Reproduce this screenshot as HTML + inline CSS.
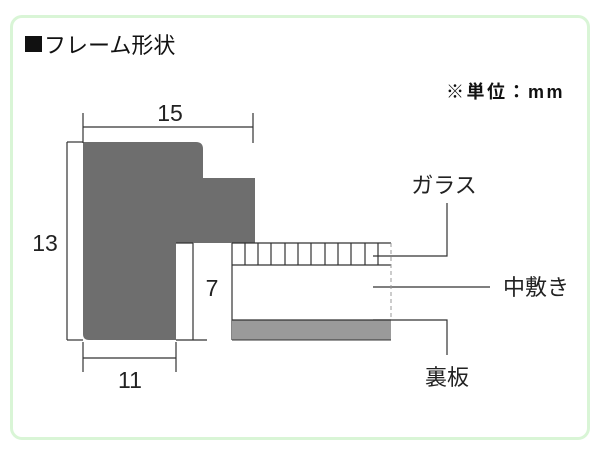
<!DOCTYPE html>
<html><head><meta charset="utf-8"><style>
html,body{margin:0;padding:0;background:#fff;}
body{width:600px;height:450px;position:relative;overflow:hidden;font-family:"Liberation Sans","Noto Sans CJK JP",sans-serif;}
.b{position:absolute;left:10px;top:15px;width:574px;height:419px;border:3px solid #d9f5d6;border-radius:12px;}
svg{position:absolute;left:0;top:0;}
</style></head><body>
<div class="b"></div>
<svg width="600" height="450" viewBox="0 0 600 450">
<rect x="25" y="36" width="17" height="16" fill="#111"/>
<text x="44" y="53" font-size="22" fill="#111" font-family="Liberation Sans,Noto Sans CJK JP,sans-serif">フレーム形状</text>
<text x="446" y="98" font-size="18" fill="#111" font-family="Liberation Sans,Noto Sans CJK JP,sans-serif" font-weight="bold" letter-spacing="2.5">※単位：mm</text>
<path d="M83 142 H196 Q203 142 203 149 V178 H255 V243 H176 V340 H89 Q83 340 83 334 Z" fill="#6e6e6e"/>
<g stroke="#333" stroke-width="1.2" fill="none">
<line x1="83" y1="127" x2="253" y2="127"/>
<line x1="83" y1="113" x2="83" y2="143"/>
<line x1="253" y1="113" x2="253" y2="143"/>
<line x1="67" y1="142" x2="67" y2="340"/>
<line x1="67" y1="142" x2="83" y2="142"/>
<line x1="67" y1="340" x2="83" y2="340"/>
<line x1="83" y1="358" x2="176" y2="358"/>
<line x1="83" y1="342" x2="83" y2="372"/>
<line x1="176" y1="342" x2="176" y2="372"/>
<line x1="176" y1="243" x2="193" y2="243"/>
<line x1="193" y1="243" x2="193" y2="340"/>
<line x1="176" y1="340" x2="207" y2="340"/>
<line x1="232" y1="243" x2="391" y2="243"/>
<line x1="232" y1="265" x2="391" y2="265"/>
<line x1="232" y1="243" x2="232" y2="340"/>
<line x1="245" y1="243" x2="245" y2="265"/><line x1="258" y1="243" x2="258" y2="265"/>
<line x1="271" y1="243" x2="271" y2="265"/><line x1="285" y1="243" x2="285" y2="265"/>
<line x1="298" y1="243" x2="298" y2="265"/><line x1="311" y1="243" x2="311" y2="265"/>
<line x1="325" y1="243" x2="325" y2="265"/><line x1="338" y1="243" x2="338" y2="265"/>
<line x1="351" y1="243" x2="351" y2="265"/><line x1="365" y1="243" x2="365" y2="265"/>
<line x1="378" y1="243" x2="378" y2="265"/>
<polyline points="373,256 447,256 447,203"/>
<line x1="373" y1="287" x2="490" y2="287"/>
<polyline points="373,320 447,320 447,355"/>
</g>
<line x1="391" y1="243" x2="391" y2="320" stroke="#999" stroke-width="1" stroke-dasharray="4,3"/>
<rect x="232" y="320" width="159" height="20" fill="#9a9a9a"/>
<line x1="232" y1="320" x2="391" y2="320" stroke="#333" stroke-width="1.2"/>
<line x1="232" y1="340" x2="391" y2="340" stroke="#333" stroke-width="1"/>
<g fill="#222" font-size="23" font-family="Liberation Sans,Noto Sans CJK JP,sans-serif">
<text x="170" y="121" text-anchor="middle">15</text>
<text x="45" y="251" text-anchor="middle">13</text>
<text x="130" y="388" text-anchor="middle">11</text>
<text x="212" y="296" text-anchor="middle">7</text>
<text x="444" y="193" text-anchor="middle" font-size="22">ガラス</text>
<text x="536" y="295" text-anchor="middle" font-size="22">中敷き</text>
<text x="447" y="385" text-anchor="middle" font-size="22">裏板</text>
</g>
</svg>
</body></html>
